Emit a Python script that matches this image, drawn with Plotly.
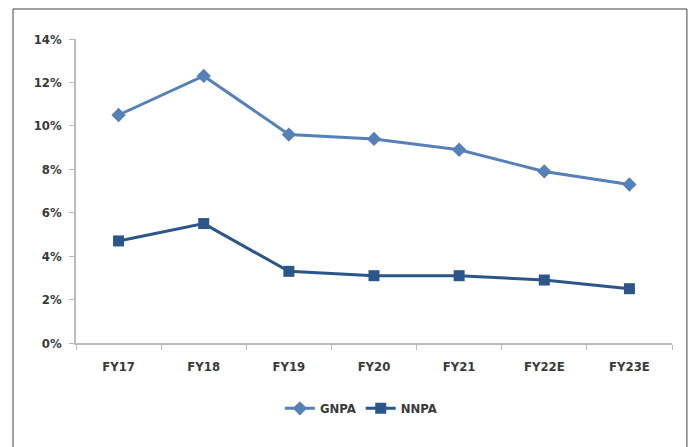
import plotly.graph_objects as go

# Asset quality trend by financial year
years = ["FY17", "FY18", "FY19", "FY20", "FY21", "FY22E", "FY23E"]
gnpa = [10.5, 12.3, 9.6, 9.4, 8.9, 7.9, 7.3]
nnpa = [4.7, 5.5, 3.3, 3.1, 3.1, 2.9, 2.5]
y_ticks = [0, 2, 4, 6, 8, 10, 12, 14]
y_labels = [f"{v}%" for v in y_ticks]

font_family = "DejaVu Sans Condensed, Roboto, sans-serif"
text_color = "#3a3a3a"

fig = go.Figure()
fig.add_trace(go.Scatter(
    x=years, y=gnpa, name="GNPA", mode="lines+markers",
    line=dict(color="#5580b8", width=3),
    marker=dict(symbol="diamond", size=11, color="#5580b8"),
))
fig.add_trace(go.Scatter(
    x=years, y=nnpa, name="NNPA", mode="lines+markers",
    line=dict(color="#2b5689", width=3),
    marker=dict(symbol="square", size=11, color="#2b5689"),
))

# Outer frame around the chart area
fig.add_shape(type="rect", xref="paper", yref="paper",
              x0=-0.1057, x1=1.025, y0=-0.36, y1=1.0987,
              line=dict(color="#444444", width=1), fillcolor="rgba(0,0,0,0)")

tick_font = dict(family=font_family, size=13, color=text_color, weight="bold")

fig.update_layout(
    width=693, height=447,
    margin=dict(l=76, r=21, t=39, b=104),
    paper_bgcolor="white", plot_bgcolor="white",
    font=dict(family=font_family, size=13, color=text_color),
    showlegend=True,
    legend=dict(orientation="h", x=0.478, xanchor="center", y=-0.215, yanchor="middle",
                font=tick_font),
    xaxis=dict(
        type="category", range=[-0.5, 6.5],
        showline=True, linecolor="#bbbbbb", linewidth=1.5,
        ticks="outside", tickson="boundaries", ticklen=5, tickcolor="#bbbbbb",
        showgrid=False, tickfont=tick_font, ticklabelstandoff=11,
    ),
    yaxis=dict(
        range=[0, 14], tickvals=y_ticks, ticktext=y_labels,
        showline=True, linecolor="#bbbbbb", linewidth=1.5,
        ticks="outside", ticklen=5, tickcolor="#bbbbbb",
        showgrid=False, zeroline=False, tickfont=tick_font, ticklabelstandoff=5,
    ),
)

fig.write_html("out.html")
